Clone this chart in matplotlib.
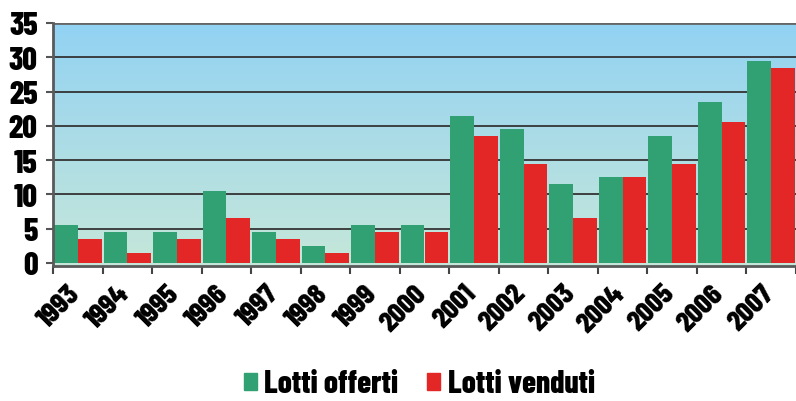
import numpy as np
import matplotlib
matplotlib.use("Agg")
import matplotlib.pyplot as plt
from matplotlib.patches import Patch
from matplotlib.colors import LinearSegmentedColormap
import matplotlib.transforms as mtransforms

plt.rcParams['font.family'] = ['Barlow Condensed', 'DejaVu Sans']
plt.rcParams['font.weight'] = 'heavy'

years = ['1993', '1994', '1995', '1996', '1997', '1998', '1999', '2000',
         '2001', '2002', '2003', '2004', '2005', '2006', '2007']
offerti = [5.5, 4.5, 4.5, 10.5, 4.5, 2.5, 5.5, 5.5, 21.5, 19.5, 11.5, 12.5, 18.5, 23.5, 29.5]
venduti = [3.5, 1.5, 3.5, 6.5, 3.5, 1.5, 4.5, 4.5, 18.5, 14.5, 6.5, 12.5, 14.5, 20.5, 28.5]

green = '#31a174'
red = '#e22726'

fig = plt.figure(figsize=(7.96, 4.02), dpi=100)
ax = fig.add_axes([53 / 796, (402 - 267) / 402, 743 / 796, 243 / 402])

x = np.arange(len(years))
w = 0.48
ymin = -0.44
ax.set_xlim(-0.5, len(years) - 0.5)
ax.set_ylim(ymin, 35)

# gradient background
cmap = LinearSegmentedColormap.from_list('bg', ['#c6e7d9', '#92d2f3'])
grad = np.linspace(0, 1, 256).reshape(-1, 1)
ax.imshow(grad, cmap=cmap, origin='lower', aspect='auto',
          extent=[-0.5, len(years) - 0.5, ymin, 35], zorder=0)

for yv in range(5, 36, 5):
    ax.axhline(yv, color='#333333' if yv < 35 else '#666666', lw=1.3 if yv < 35 else 2, zorder=1)

ax.bar(x - w / 2, offerti, width=w, color=green, zorder=2)
ax.bar(x + w / 2, venduti, width=w, color=red, zorder=2)

for s in ['top', 'right']:
    ax.spines[s].set_visible(False)
for s in ['left', 'bottom']:
    ax.spines[s].set_color('#5a5a5a')
    ax.spines[s].set_linewidth(2)

ax.set_yticks(range(0, 36, 5))
ax.set_yticklabels([str(v) for v in range(0, 36, 5)], fontsize=23, fontweight='heavy')
ax.tick_params(axis='y', length=5, width=1.5, color='#555555', pad=6)

ax.set_xticks(np.arange(len(years) + 1) - 0.5)
ax.set_xticklabels([])
ax.tick_params(axis='x', length=6, width=1.5, color='#444444')

offset = mtransforms.ScaledTranslation(7 / 100, -14 / 100, fig.dpi_scale_trans)
for xi, yr in zip(x, years):
    ax.text(xi, 0, yr, rotation=45, ha='right', va='top', fontsize=21,
            fontweight='heavy', transform=ax.get_xaxis_transform() + offset)

handles = [Patch(color=green, label='Lotti offerti'), Patch(color=red, label='Lotti venduti')]
fig.legend(handles=handles, loc='center', bbox_to_anchor=(419 / 796, 1 - 385 / 402),
           ncol=2, frameon=False, handlelength=0.42, handleheight=0.5,
           handletextpad=0.25, columnspacing=0.9, borderpad=0,
           prop={'weight': 'heavy', 'size': 22.5})

fig.savefig('out.png', dpi=100)
